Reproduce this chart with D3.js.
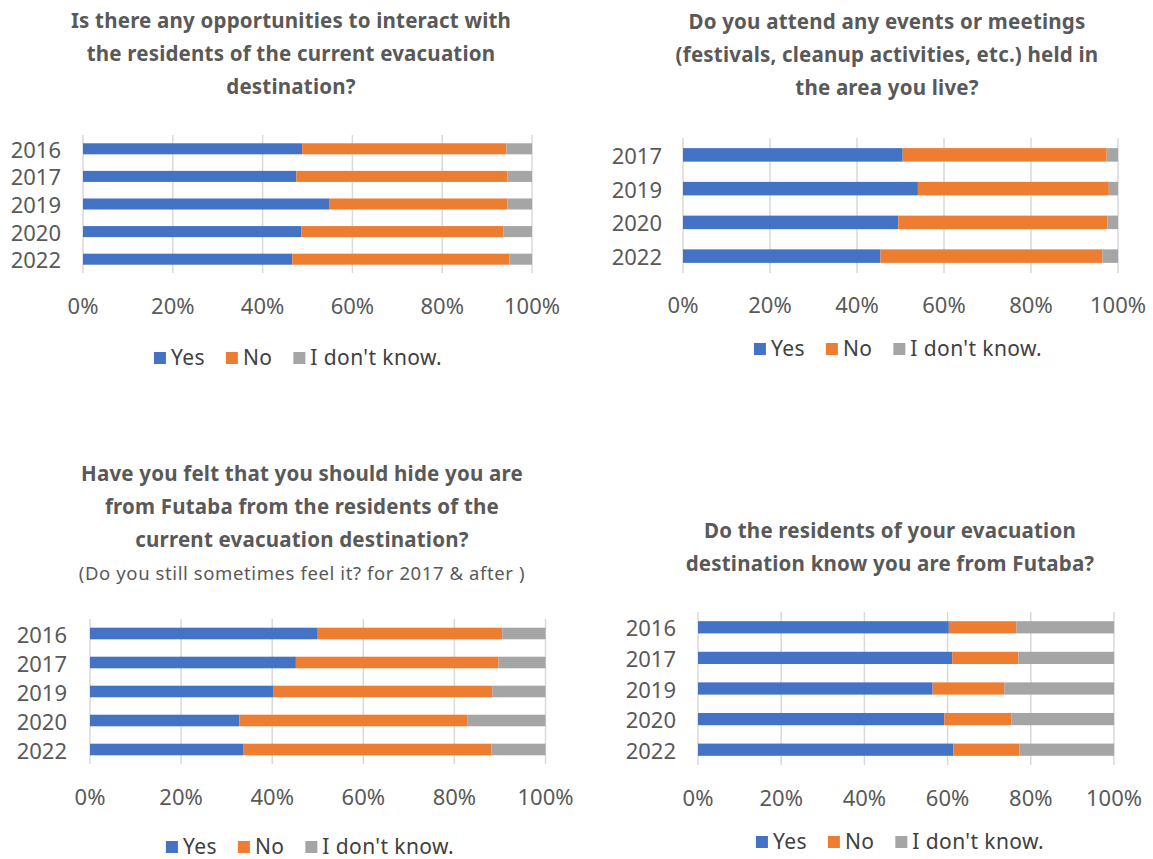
<!DOCTYPE html>
<html><head><meta charset="utf-8">
<script src="https://cdn.jsdelivr.net/npm/d3@7/dist/d3.min.js"></script>
<style>
html,body{margin:0;padding:0;background:#fff;}
svg{display:block;font-family:"Noto Sans","DejaVu Sans",sans-serif;}
</style></head>
<body><svg id="c" width="1153" height="859"></svg>
<script>
// ---------- DATA ----------
const seriesNames = ["Yes", "No", "I don't know."];
const seriesColors = ["#4472C4", "#ED7D31", "#A5A5A5"];
const tickValues = [0, 0.2, 0.4, 0.6, 0.8, 1.0];

// Chart 1
const title1 = ["Is there any opportunities to interact with", "the residents of the current evacuation", "destination?"];
const years1 = ["2016", "2017", "2019", "2020", "2022"];
const yes1 = [48.8, 47.5, 54.8, 48.6, 46.6];
const no1  = [45.5, 47.0, 39.7, 45.0, 48.4];
const dk1  = [5.7, 5.5, 5.5, 6.4, 5.0];

// Chart 2
const title2 = ["Do you attend any events or meetings", "(festivals, cleanup activities, etc.) held in", "the area you live?"];
const years2 = ["2017", "2019", "2020", "2022"];
const yes2 = [50.5, 54.0, 49.5, 45.4];
const no2  = [46.9, 43.9, 48.1, 51.0];
const dk2  = [2.6, 2.1, 2.4, 3.6];

// Chart 3
const title3 = ["Have you felt that you should hide you are", "from Futaba from the residents of the", "current evacuation destination?"];
const subtitle3 = "(Do you still sometimes feel it? for 2017 & after )";
const years3 = ["2016", "2017", "2019", "2020", "2022"];
const yes3 = [50.0, 45.2, 40.2, 32.8, 33.6];
const no3  = [40.5, 44.5, 48.1, 50.0, 54.5];
const dk3  = [9.5, 10.3, 11.7, 17.2, 11.9];

// Chart 4
const title4 = ["Do the residents of your evacuation", "destination know you are from Futaba?"];
const years4 = ["2016", "2017", "2019", "2020", "2022"];
const yes4 = [60.3, 61.1, 56.4, 59.2, 61.4];
const no4  = [16.2, 15.9, 17.2, 16.1, 15.9];
const dk4  = [23.5, 23.0, 26.4, 24.7, 22.7];

// ---------- LAYOUT ----------
const charts = [
  {title: title1, sub: null, years: years1, vals: [yes1, no1, dk1],
   x0: 83, x1: 532, yT: 135, yB: 273, labR: 61, tickY: 305, titleCx: 291, titleY: 20, legCx: 298, legY: 357},
  {title: title2, sub: null, years: years2, vals: [yes2, no2, dk2],
   x0: 683, x1: 1118, yT: 138, yB: 273, labR: 662, tickY: 304, titleCx: 887, titleY: 21, legCx: 898, legY: 348},
  {title: title3, sub: subtitle3, years: years3, vals: [yes3, no3, dk3],
   x0: 90, x1: 545.5, yT: 619, yB: 764, labR: 67, tickY: 796, titleCx: 302, titleY: 473, legCx: 310, legY: 846},
  {title: title4, sub: null, years: years4, vals: [yes4, no4, dk4],
   x0: 698, x1: 1114, yT: 612, yB: 765, labR: 676, tickY: 797, titleCx: 890, titleY: 530, legCx: 900, legY: 841}
];

const svg = d3.select("#c");

charts.forEach(cfg => {
  const g = svg.append("g");
  const x = d3.scaleLinear().domain([0, 1]).range([cfg.x0, cfg.x1]);
  const y = d3.scaleBand().domain(cfg.years).range([cfg.yT, cfg.yB]).paddingInner(0.6).paddingOuter(0.3);

  // title
  cfg.title.forEach((t, i) => {
    g.append("text").attr("x", cfg.titleCx).attr("y", cfg.titleY + i * 33)
      .attr("text-anchor", "middle").attr("dominant-baseline", "central")
      .attr("font-size", 20.5).attr("font-weight", "bold").attr("letter-spacing", 0.2)
      .attr("fill", "#595959").text(t);
  });
  if (cfg.sub) {
    g.append("text").attr("x", cfg.titleCx).attr("y", cfg.titleY + cfg.title.length * 33)
      .attr("text-anchor", "middle").attr("dominant-baseline", "central")
      .attr("font-size", 18.5).attr("letter-spacing", 0.6).attr("fill", "#595959").text(cfg.sub);
  }

  // gridlines
  g.selectAll(".grid").data(tickValues).enter().append("line")
    .attr("x1", d => x(d)).attr("x2", d => x(d)).attr("y1", cfg.yT).attr("y2", cfg.yB)
    .attr("stroke", "#D9D9D9").attr("stroke-width", 1.5);

  // stacked bars
  const rows = cfg.years.map((yr, i) => {
    const v = cfg.vals.map(s => s[i]);
    const tot = d3.sum(v);
    let acc = 0;
    return v.map((val, k) => { const s = acc; acc += val / tot; return {yr, k, s, e: acc}; });
  }).flat();
  g.selectAll(".bar").data(rows).enter().append("rect")
    .attr("x", d => x(d.s)).attr("width", d => x(d.e) - x(d.s))
    .attr("y", d => y(d.yr)).attr("height", y.bandwidth())
    .attr("fill", d => seriesColors[d.k]);

  // year labels
  g.selectAll(".yl").data(cfg.years).enter().append("text")
    .attr("x", cfg.labR).attr("y", d => y(d) + y.bandwidth() / 2)
    .attr("text-anchor", "end").attr("dominant-baseline", "central")
    .attr("font-size", 22).attr("fill", "#595959").text(d => d);

  // tick labels
  const fmt = d3.format(".0%");
  g.selectAll(".tl").data(tickValues).enter().append("text")
    .attr("x", d => x(d)).attr("y", cfg.tickY)
    .attr("text-anchor", "middle").attr("dominant-baseline", "central")
    .attr("font-size", 22).attr("fill", "#595959").text(d => fmt(d));

  // legend
  const lg = g.append("g");
  let cx = 0;
  seriesNames.forEach((n, k) => {
    const it = lg.append("g").attr("transform", `translate(${cx},0)`);
    it.append("rect").attr("x", 0).attr("y", -5).attr("width", 12).attr("height", 12).attr("fill", seriesColors[k]);
    const t = it.append("text").attr("x", 17).attr("y", 0).attr("dominant-baseline", "central")
      .attr("font-size", 21).attr("letter-spacing", 0.4).attr("fill", "#404040").text(n);
    const w = t.node().getComputedTextLength();
    cx += 17 + w + 21;
  });
  const totalW = cx - 21;
  lg.attr("transform", `translate(${cfg.legCx - totalW / 2},${cfg.legY})`);
});
</script></body></html>
